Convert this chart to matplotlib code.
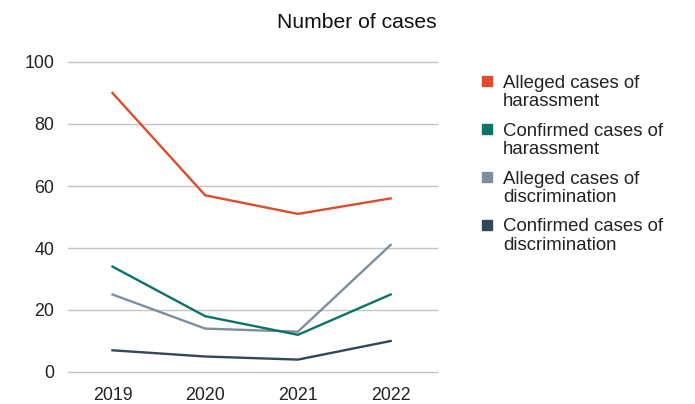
import matplotlib.pyplot as plt
from matplotlib.patches import Rectangle

plt.rcParams['font.family'] = ['Liberation Sans', 'DejaVu Sans']

years = ['2019', '2020', '2021', '2022']
alleged_harassment = [90, 57, 51, 56]
confirmed_harassment = [34, 18, 12, 25]
alleged_discrimination = [25, 14, 13, 41]
confirmed_discrimination = [7, 5, 4, 10]

series_labels = ['Alleged cases of\nharassment', 'Confirmed cases of\nharassment',
                 'Alleged cases of\ndiscrimination', 'Confirmed cases of\ndiscrimination']
series_values = [alleged_harassment, confirmed_harassment, alleged_discrimination, confirmed_discrimination]
colors = ['#dc4c2e', '#0b7466', '#7d8f9c', '#34475a']

W, H = 695, 404
fig = plt.figure(figsize=(W / 100, H / 100), dpi=100)
ax = fig.add_axes([68 / W, 1 - 372 / H, (437 - 68) / W, (372 - 62) / H])

x = range(len(years))
# bottom series first so the top ones sit on top like the reference
for vals, c in zip(series_values[::-1], colors[::-1]):
    ax.plot(x, vals, color=c, lw=1.7, solid_joinstyle='miter')

ax.set_xlim(-0.48, len(years) - 0.5)
ax.set_ylim(0, 100)
ax.set_yticks([0, 20, 40, 60, 80, 100])
ax.set_xticks(list(x))
ax.set_xticklabels(years)
ax.grid(axis='y', color='#c4c4c4', lw=1)
for gl in ax.get_ygridlines():
    gl.set_clip_on(False)
ax.set_axisbelow(True)
for s in ax.spines.values():
    s.set_visible(False)
ax.tick_params(length=0, labelsize=12.8, colors='#222222')
ax.tick_params(axis='y', pad=10)
ax.tick_params(axis='x', pad=10.5)

fig.text(357 / W, 1 - 28 / H, 'Number of cases', ha='center', va='baseline', fontsize=15.2, color='#111111')

# legend
for i, (lab, c) in enumerate(zip(series_labels, colors)):
    yc = 81 + i * 48
    fig.add_artist(Rectangle((482 / W, 1 - (yc + 5) / H), 10 / W, 10 / H,
                             transform=fig.transFigure, color=c))
    for j, line in enumerate(lab.split('\n')):
        fig.text(503 / W, 1 - (yc + 6.5 + j * 18) / H, line, ha='left', va='baseline',
                 fontsize=13.4, color='#222222')

fig.savefig('out.png', dpi=100)
